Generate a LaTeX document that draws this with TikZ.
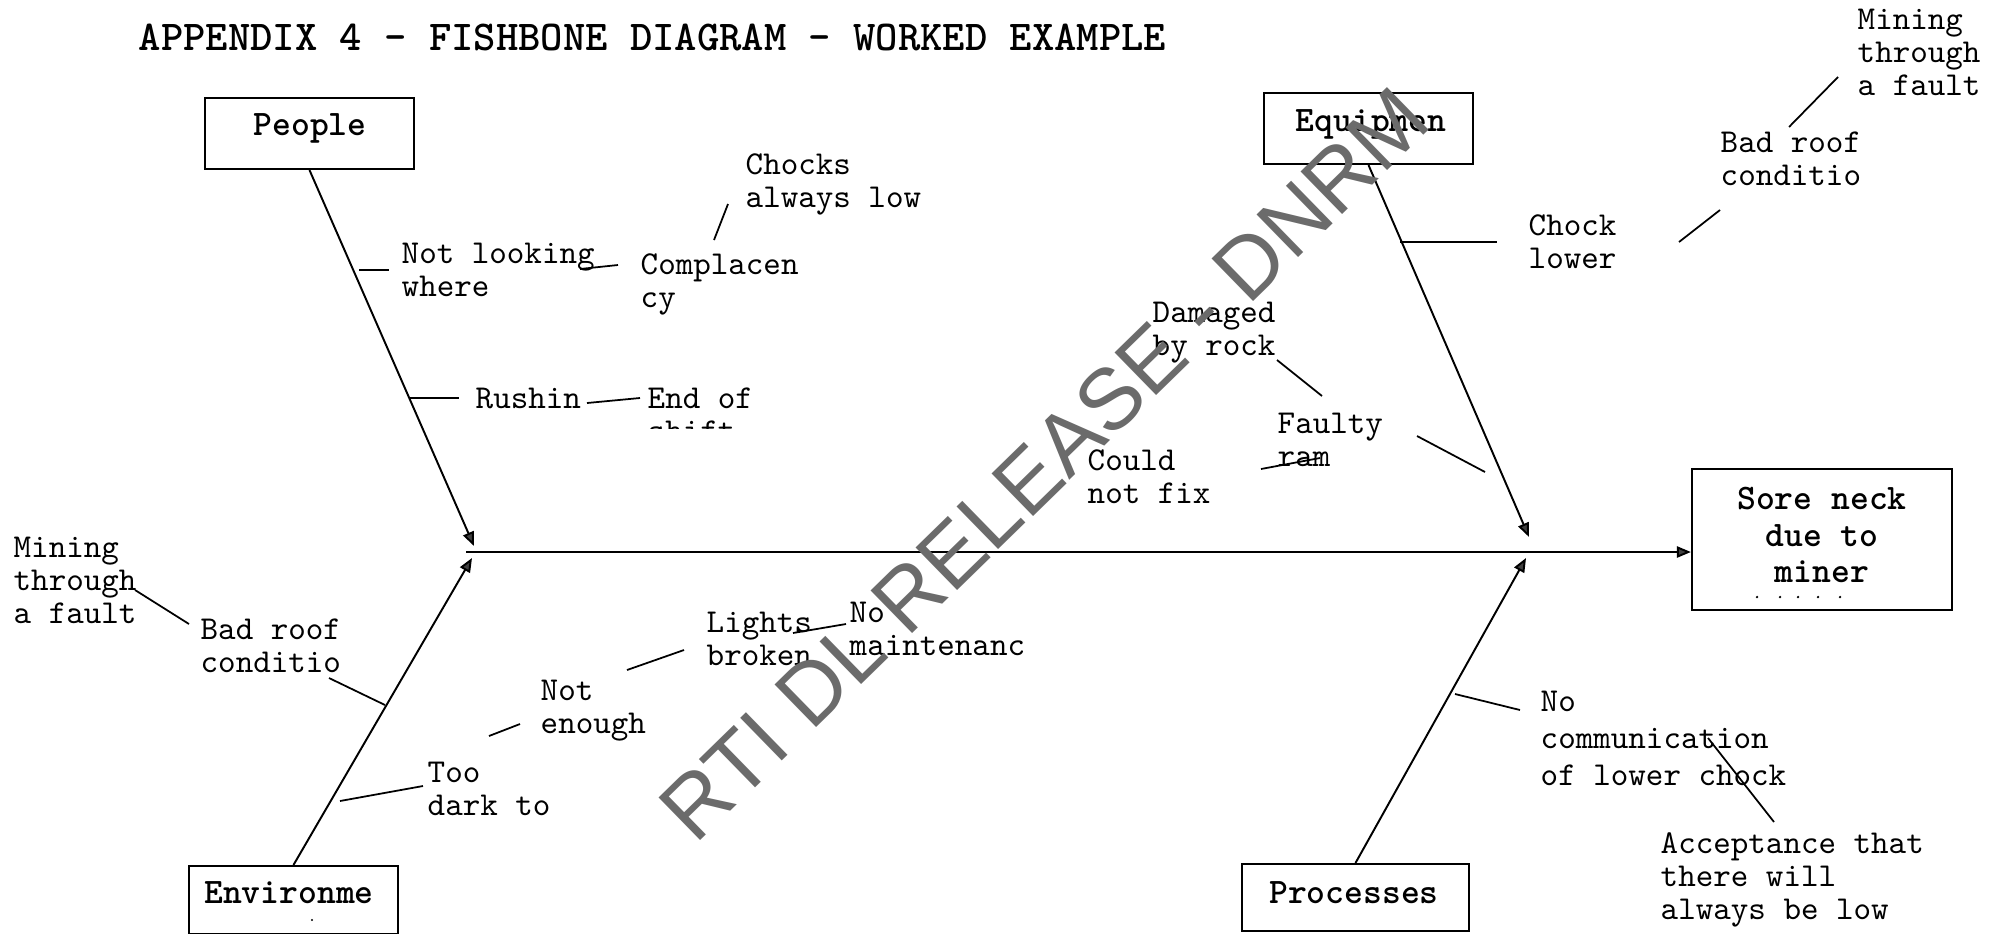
\documentclass[tikz,border=0pt]{standalone}
\usepackage{fontspec}
\newfontfamily\wmfont{Liberation Sans}
\usetikzlibrary{arrows.meta}
\begin{document}
\begin{tikzpicture}[x=0.01cm,y=-0.01cm,
  lbl/.style={font=\ttfamily\fontsize{9.5}{9.4}\selectfont, align=left, anchor=west, inner sep=0pt},
  boxt/.style={font=\ttfamily\bfseries\fontsize{10.2}{11}\selectfont, align=center, inner sep=0pt},
  catbox/.style={draw, line width=0.6pt, inner sep=0pt},
  bone/.style={line width=0.55pt, -{Triangle[length=4pt,width=3.2pt,fill=black!75]}},
  twig/.style={line width=0.5pt},
  wm/.style={font=\wmfont\fontsize{24.6}{26}\selectfont, text=black!58, inner sep=0pt}]
\useasboundingbox[fill=white] (0,0) rectangle (1998,933);

% title
\node[anchor=west, inner sep=0pt, font=\ttfamily\bfseries\fontsize{12.1}{13}\selectfont] (title) at (138,37) {APPENDIX 4 - FISHBONE DIAGRAM – WORKED EXAMPLE};

% category boxes
\node[catbox, minimum width=2.09cm, minimum height=0.71cm] (people) at (309.5,133.5) {};
\node[boxt] (peoplet) at (310,128) {People};
\node[catbox, minimum width=2.09cm, minimum height=0.71cm] (equip) at (1368.5,128.5) {};
\node[boxt] (equipt) at (1371,124) {Equipmen};
\node[catbox, minimum width=2.09cm, minimum height=0.68cm] (env) at (293.5,900) {};
\node[boxt] (envt) at (289,893) {Environme};
\fill (312,920) circle (1.2);
\node[catbox, minimum width=2.27cm, minimum height=0.67cm] (proc) at (1355.5,897.5) {};
\node[boxt] (proct) at (1354,893) {Processes};
\node[catbox, minimum width=2.60cm, minimum height=1.41cm] (sore) at (1822,539.5) {};
\node[boxt, font=\ttfamily\bfseries\fontsize{10.2}{10.4}\selectfont] (soret) at (1822,535) {Sore neck\\due to\\miner};
\foreach \dx in {1757,1780,1798,1818,1840} \fill (\dx,597) circle (1.3);

% bones
\coordinate (ptip) at (474,546);
\coordinate (etip) at (472,558);
\coordinate (qtip) at (1529,537);
\coordinate (rtip) at (1526,558);
\coordinate (spL) at (466,552);
\draw[bone] (people.south) -- (ptip);
\draw[bone] (env.north) -- (etip);
\draw[bone] (equip.south) -- (qtip);
\draw[bone] (proc.north) -- (rtip);
\draw[bone] (spL) -- (sore.west |- spL);

% People side
\node[lbl] (nl) at (401,270) {Not looking\\where};
\draw[twig] (359,270) -- (389,270);
\draw[twig] (580,269) -- (618,265);
\node[lbl] (comp) at (640,284) {Complacen\\cy};
\draw[twig] (714,240) -- (728,204);
\node[lbl] (chocks) at (745,184) {Chocks\\always low};
\draw[twig] (410,398) -- (459,398);
\node[lbl] (rush) at (475,398) {Rushin};
\draw[twig] (587,403) -- (640,398);
\node[lbl] (endof) at (647,398) {End of};
\begin{scope}
\clip (600,380) rectangle (800,428);
\node[lbl] (shift) at (647,431) {shift};
\end{scope}

% Equipment side
\draw[twig] (1400,242) -- (1497,242);
\node[lbl] (chock) at (1528,242) {Chock\\lower};
\draw[twig] (1679,242) -- (1720,210);
\node[lbl] (badr) at (1720,159) {Bad roof\\conditio};
\draw[twig] (1789,127) -- (1838,77);
\node[lbl] (minr) at (1857,52) {Mining\\through\\a fault};
\node[lbl] (dam) at (1152,333) {Damaged\\by rock};
\draw[twig] (1277,360) -- (1322,396);
\node[lbl] (faulty) at (1277,440) {Faulty\\ram};
\draw[twig] (1261,469) -- (1320,458);
\node[lbl] (could) at (1087,477) {Could\\not fix};
\draw[twig] (1417,436) -- (1485,472);

% Environment side
\node[lbl] (minl) at (13,580) {Mining\\through\\a fault};
\draw[twig] (135,590) -- (189,624);
\node[lbl] (badl) at (200,646) {Bad roof\\conditio};
\draw[twig] (329,678) -- (385,705);
\draw[twig] (340,801) -- (423,786);
\node[lbl] (too) at (427,789) {Too\\dark to};
\draw[twig] (489,736) -- (520,724);
\node[lbl] (noten) at (540,711) {Not\\enough};
\draw[twig] (627,670) -- (684,650);
\node[lbl] (lights) at (706,639) {Lights\\broken};
\draw[twig] (793,633) -- (846,624);
\node[lbl] (nomaint) at (849,629) {No\\maintenanc};

% Processes side
\draw[twig] (1455,694) -- (1520,710);
\node[lbl, font=\ttfamily\fontsize{9.5}{10.5}\selectfont] (nocomm) at (1540,738) {No\\communication\\of lower chock};
\draw[twig] (1708,738) -- (1774,822);
\node[lbl] (accept) at (1660,880) {Acceptance that\\there will\\always be low};

% watermark
\node[wm, rotate=44.3] (wmk) at (1044,464) {RTI DL RELEASE - DNRM};
\end{tikzpicture}
\end{document}
